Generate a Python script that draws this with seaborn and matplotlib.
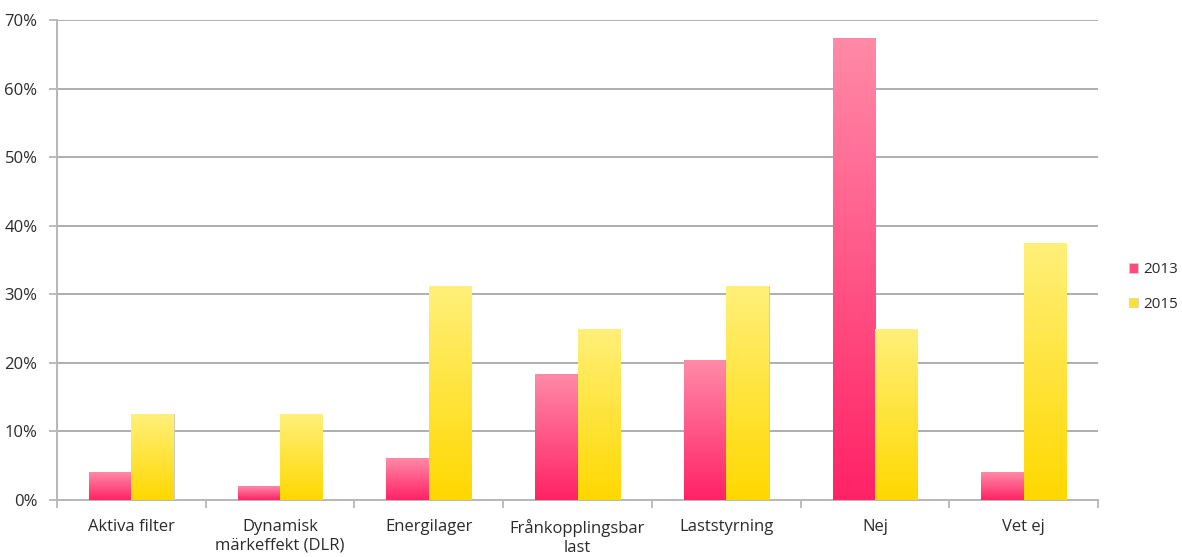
import numpy as np
import pandas as pd
import matplotlib
matplotlib.use("Agg")
import matplotlib.pyplot as plt
from matplotlib.colors import LinearSegmentedColormap
from matplotlib.patches import Patch
from matplotlib.ticker import FuncFormatter, FixedLocator
import seaborn as sns

categories = ["Aktiva filter", "Dynamisk\nmärkeffekt (DLR)", "Energilager",
              "Frånkopplingsbar\nlast", "Laststyrning", "Nej", "Vet ej"]
years = ["2013", "2015"]
values_2013 = [4.08, 2.04, 6.12, 18.37, 20.41, 67.35, 4.08]
values_2015 = [12.5, 12.5, 31.25, 25.0, 31.25, 25.0, 37.5]
y_ticks = [0, 10, 20, 30, 40, 50, 60, 70]

df = pd.DataFrame({
    "kategori": categories * 2,
    "år": [years[0]] * len(categories) + [years[1]] * len(categories),
    "andel": values_2013 + values_2015,
})

sns.set_theme(style="white")
plt.rcParams["font.family"] = ["Open Sans", "DejaVu Sans"]
text_color = "#2b2b2b"

fig = plt.figure(figsize=(11.82, 5.57), dpi=100)
ax = fig.add_axes([57 / 1182, 1 - 500 / 557, (1098 - 57) / 1182, 480 / 557])

solid = {"2013": "#ff4a80", "2015": "#ffe030"}
sns.barplot(data=df, x="kategori", y="andel", hue="år", palette=solid,
            width=0.57, dodge=True, ax=ax, legend=False,
            edgecolor="#c8c8c8", linewidth=0.6, zorder=3)

# vertical gradient fill for each bar, light at the top, saturated at the base
gradients = {
    "2013": LinearSegmentedColormap.from_list("g13", ["#ff2266", "#ff8aa8"]),
    "2015": LinearSegmentedColormap.from_list("g15", ["#ffd800", "#fff07a"]),
}
ramp = np.linspace(0, 1, 256).reshape(-1, 1)
for year, container in zip(years, ax.containers):
    for bar in container:
        x0, y0 = bar.get_x(), bar.get_y()
        w, h = bar.get_width(), bar.get_height()
        im = ax.imshow(ramp, cmap=gradients[year], origin="lower",
                       extent=[x0, x0 + w, y0, y0 + h], aspect="auto",
                       zorder=3.5, interpolation="bilinear")
        im.set_clip_path(bar)

ax.set_xlim(-0.5, len(categories) - 0.5)
ax.set_ylim(0, 70)
ax.set_yticks(y_ticks)
ax.yaxis.set_major_formatter(FuncFormatter(lambda v, _: f"{v:.0f}%"))
ax.grid(axis="y", color="#a8a8a8", linewidth=1.3, zorder=0)
ax.set_axisbelow(True)

ax.set_xticks(range(len(categories)))
ax.set_xticklabels(categories, fontsize=12, color=text_color, linespacing=1.2)
ax.xaxis.set_minor_locator(FixedLocator(np.arange(-0.5, len(categories), 1.0)))
ax.tick_params(axis="x", which="major", length=0, pad=14)
ax.tick_params(axis="x", which="minor", length=6, width=1.2, color="#b0b0b0",
               direction="out", bottom=True)
ax.tick_params(axis="y", length=6, width=1.2, color="#b0b0b0", direction="out",
               labelsize=12, labelcolor=text_color, pad=8, left=True)

ax.set_xlabel("")
ax.set_ylabel("")
for side in ("top", "right"):
    ax.spines[side].set_visible(False)
for side in ("left", "bottom"):
    ax.spines[side].set_color("#b8b8b8")
    ax.spines[side].set_linewidth(1.4)

handles = [Patch(facecolor=solid[y], edgecolor="#d0d0d0", linewidth=0.5, label=y)
           for y in years]
fig.legend(handles=handles, loc="center left", bbox_to_anchor=(1129 / 1182, 1 - 287 / 557),
           frameon=False, fontsize=11, labelcolor=text_color, handlelength=0.6,
           handleheight=0.6, handletextpad=0.3, labelspacing=1.3, borderpad=0,
           borderaxespad=0)

fig.savefig("out.png", dpi=100, facecolor="white")
